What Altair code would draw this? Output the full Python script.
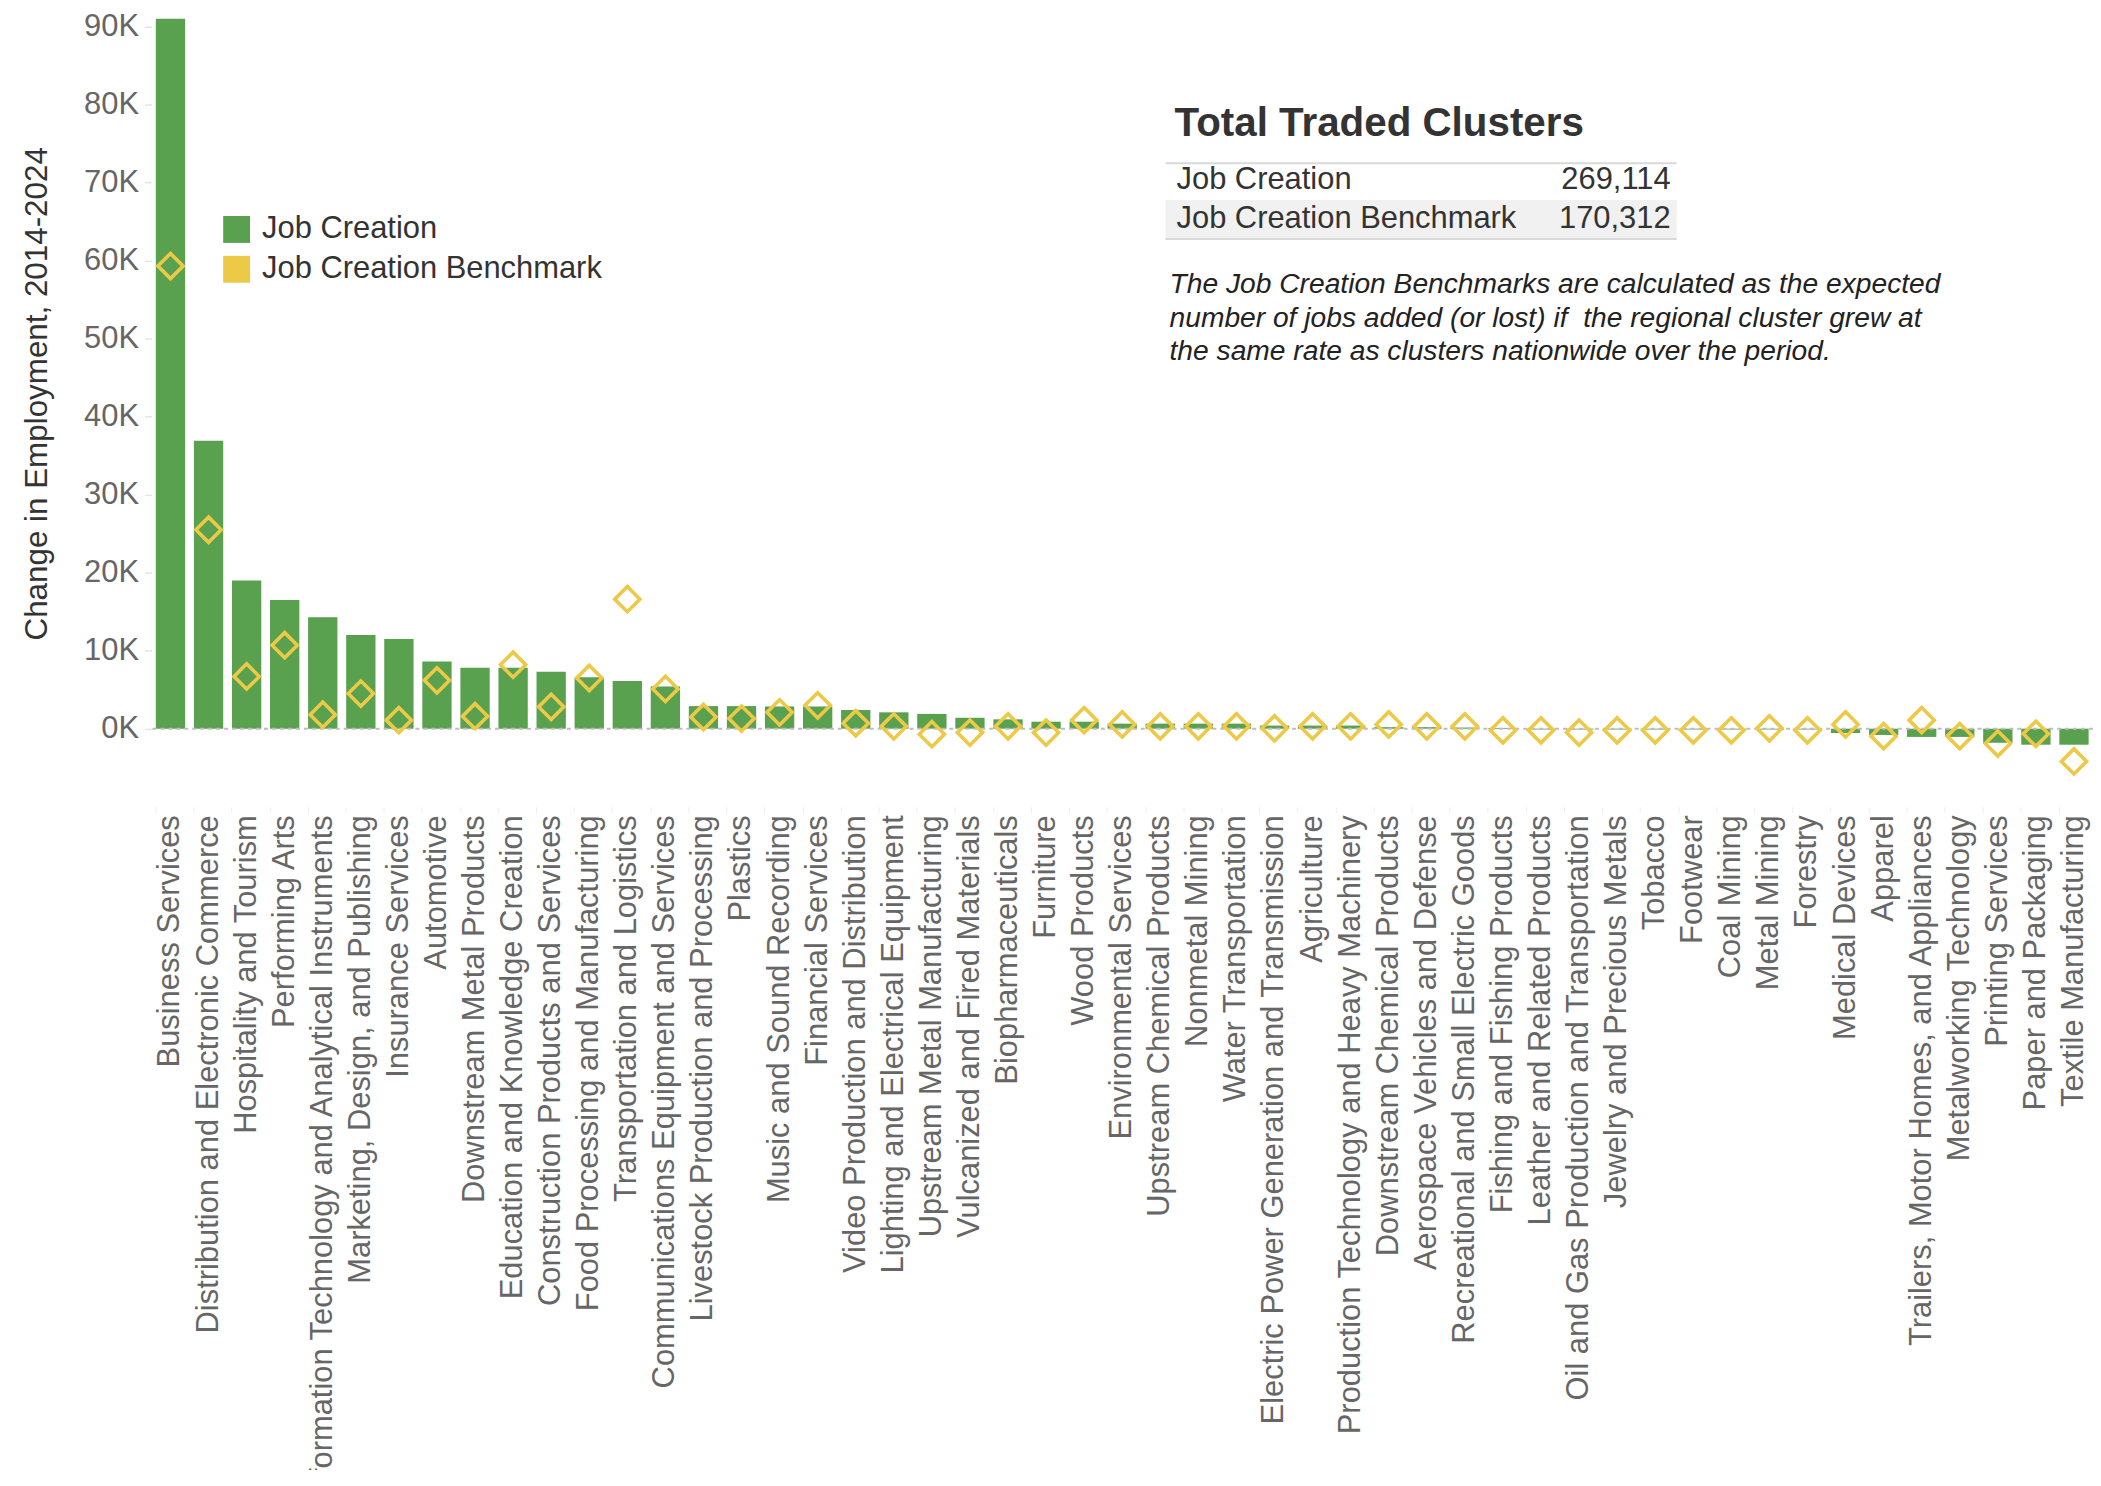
import altair as alt
import pandas as pd

FONT = "Liberation Sans, Arial, sans-serif"
GREEN = "#59A14F"
YELLOW = "#EDC948"

clusters = [
    "Business Services", "Distribution and Electronic Commerce", "Hospitality and Tourism",
    "Performing Arts", "Information Technology and Analytical Instruments",
    "Marketing, Design, and Publishing", "Insurance Services", "Automotive",
    "Downstream Metal Products", "Education and Knowledge Creation",
    "Construction Products and Services", "Food Processing and Manufacturing",
    "Transportation and Logistics", "Communications Equipment and Services",
    "Livestock Production and Processing", "Plastics", "Music and Sound Recording",
    "Financial Services", "Video Production and Distribution",
    "Lighting and Electrical Equipment", "Upstream Metal Manufacturing",
    "Vulcanized and Fired Materials", "Biopharmaceuticals", "Furniture", "Wood Products",
    "Environmental Services", "Upstream Chemical Products", "Nonmetal Mining",
    "Water Transportation", "Electric Power Generation and Transmission", "Agriculture",
    "Production Technology and Heavy Machinery", "Downstream Chemical Products",
    "Aerospace Vehicles and Defense", "Recreational and Small Electric Goods",
    "Fishing and Fishing Products", "Leather and Related Products",
    "Oil and Gas Production and Transportation", "Jewelry and Precious Metals", "Tobacco",
    "Footwear", "Coal Mining", "Metal Mining", "Forestry", "Medical Devices", "Apparel",
    "Trailers, Motor Homes, and Appliances", "Metalworking Technology", "Printing Services",
    "Paper and Packaging", "Textile Manufacturing",
]

job_creation = [
    91000, 36900, 19000, 16500, 14300, 12000, 11500, 8600, 7800, 7800, 7300, 6600, 6100, 5400,
    2900, 2900, 2850, 2850,
    2400, 2100, 1900, 1400, 1200, 900, 900,
    650, 650, 650, 650, 400, 400, 400, 200, 200, 150,
    100, -100, -100, -100, -100, -100, -100, -100, -100,
    -550, -800, -1050, -1050, -1800, -2050, -2050,
]

benchmark = [
    59300, 25500, 6700, 10700, 1800, 4500, 1100, 6200, 1600, 8200, 2800, 6500, 16600, 5100,
    1500, 1300, 2100, 3000,
    700, 300, -700, -500, 300, -500, 1100,
    550, 300, 300, 300, 50, 300, 300, 550, 300, 300,
    -200, -200, -500, -200, -200, -200, -200, 50, -200,
    550, -950, 1100, -950, -1900, -650, -4200,
]

series_names = ["Job Creation", "Job Creation Benchmark"]
y_ticks = [0, 10000, 20000, 30000, 40000, 50000, 60000, 70000, 80000, 90000]

total_labels = ["Job Creation", "Job Creation Benchmark"]
total_values = [269114, 170312]

panel_title = "Total Traded Clusters"
note_lines = [
    "The Job Creation Benchmarks are calculated as the expected",
    "number of jobs added (or lost) if \u00a0the regional cluster grew at",
    "the same rate as clusters nationwide over the period.",
]
y_title = "Change in Employment, 2014-2024"

df = pd.DataFrame({
    "cluster": clusters,
    "jobs": job_creation,
    "bench": benchmark,
    "series": [series_names[0]] * len(clusters),
})

W = 1949
H = 795

yscale = alt.Scale(domain=[-10000, 91500], nice=False, zero=False)
yaxis = alt.Axis(
    values=y_ticks, labelExpr="format(datum.value/1000, 'd') + 'K'",
    grid=False, domain=False, ticks=True, tickColor="#e4e4e4", tickSize=7, tickWidth=1.5,
    labelPadding=6, labelFontSize=31, labelColor="#666666", labelFont=FONT,
    title=y_title, titleX=-114, titleY=380, titleAngle=270, titleAlign="center",
    titleBaseline="middle", titleFontSize=31.5, titleFontWeight="normal", titleColor="#333333",
    titleFont=FONT,
)
xenc = alt.X(
    "cluster:N", sort=clusters,
    scale=alt.Scale(paddingInner=0.23, paddingOuter=0.115),
    axis=alt.Axis(
        title=None, labelAngle=-90, labelFontSize=31, labelColor="#666666", labelFont=FONT,
        labelLimit=2000, domain=False, ticks=True, tickColor="#eeeeee", tickSize=6,
        bandPosition=0, labelPadding=2,
    ),
)

bars = alt.Chart(df).mark_bar().encode(
    x=xenc,
    y=alt.Y("jobs:Q", scale=yscale, axis=yaxis),
    color=alt.Color(
        "series:N",
        scale=alt.Scale(domain=series_names, range=[GREEN, YELLOW]),
        legend=alt.Legend(
            title=None, orient="none", legendX=70, legendY=200, symbolType="square",
            symbolSize=729, symbolStrokeWidth=0, labelFontSize=31, labelColor="#333333",
            labelFont=FONT, rowPadding=8, labelOffset=10, labelLimit=1000,
        ),
    ),
)

zero = alt.Chart(pd.DataFrame({"zero": [0]})).mark_rule(
    color="#bdbdbd", strokeDash=[4, 4], strokeWidth=2
).encode(y=alt.Y("zero:Q", scale=yscale, axis=yaxis))

points = alt.Chart(df).mark_point(
    shape="diamond", filled=False, color=YELLOW, strokeWidth=3.6, size=640, opacity=1
).encode(
    x=xenc,
    y=alt.Y("bench:Q", scale=yscale, axis=yaxis),
)

layers = [bars, zero, points]

# Summary panel
layers.append(
    alt.Chart(pd.DataFrame({"t": [panel_title]})).mark_text(
        align="left", baseline="alphabetic", font=FONT, fontSize=40.5, fontWeight="bold",
        color="#333333",
    ).encode(text="t:N", x=alt.value(1027), y=alt.value(122))
)
layers.append(
    alt.Chart(pd.DataFrame({"a": [0]})).mark_rect(color="#f1f1f1").encode(
        x=alt.value(1018), x2=alt.value(1531), y=alt.value(186), y2=alt.value(225)
    )
)
for yy in [149, 225]:
    layers.append(
        alt.Chart(pd.DataFrame({"a": [0]})).mark_rule(color="#d9d9d9", strokeWidth=2).encode(
            x=alt.value(1018), x2=alt.value(1531), y=alt.value(yy)
        )
    )
row_y = [166, 205]
for lab, val, yy in zip(total_labels, total_values, row_y):
    rdf = pd.DataFrame({"lab": [lab], "val": [val]})
    layers.append(
        alt.Chart(rdf).mark_text(
            align="left", baseline="middle", font=FONT, fontSize=31, color="#333333"
        ).encode(text="lab:N", x=alt.value(1029), y=alt.value(yy))
    )
    layers.append(
        alt.Chart(rdf).mark_text(
            align="right", baseline="middle", font=FONT, fontSize=31, color="#333333"
        ).encode(text=alt.Text("val:Q", format=","), x=alt.value(1525), y=alt.value(yy))
    )
for i, line in enumerate(note_lines):
    layers.append(
        alt.Chart(pd.DataFrame({"t": [line]})).mark_text(
            align="left", baseline="middle", font=FONT, fontSize=28.3, fontStyle="italic",
            color="#222222",
        ).encode(text="t:N", x=alt.value(1022), y=alt.value(271 + 34 * i))
    )

chart = alt.layer(*layers).properties(
    width=W, height=H,
    autosize=alt.AutoSizeParams(type="none"),
    padding={"left": 144, "top": 4, "right": 0, "bottom": 663},
).configure_view(stroke=None)

chart.save("out.html", embed_options={"renderer": "svg", "actions": False})
